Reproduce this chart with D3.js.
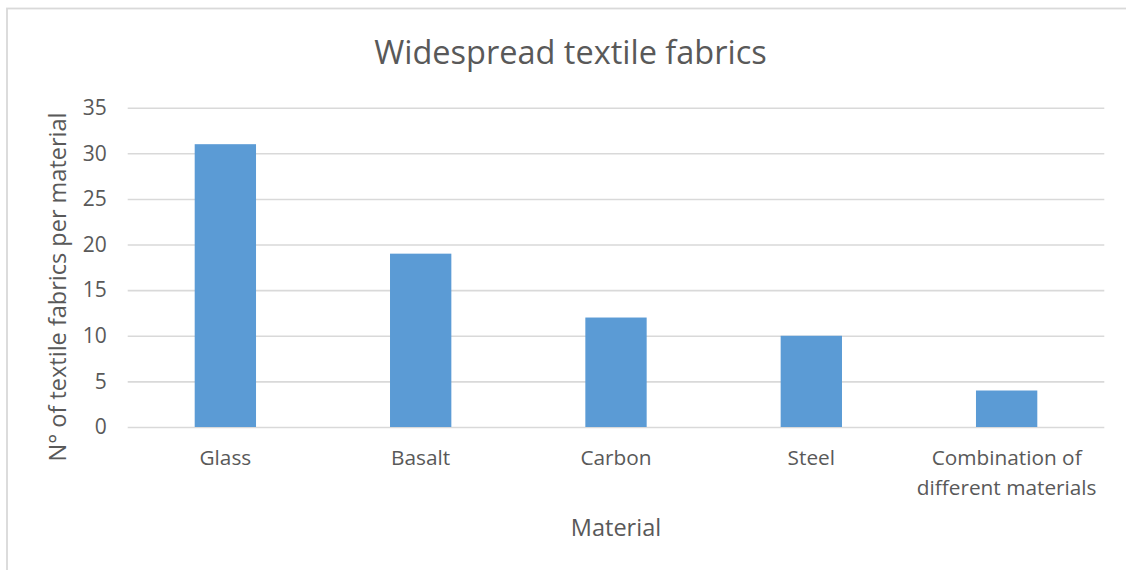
<!DOCTYPE html>
<html>
<head>
<meta charset="utf-8">
<script src="https://cdn.jsdelivr.net/npm/d3@7"></script>
<style>
  html, body { margin: 0; padding: 0; background: #fff; }
  svg { display: block; }
</style>
</head>
<body>
<div id="chart"></div>
<script>
var width = 1126;
var height = 570;

// data
var categories = ["Glass", "Basalt", "Carbon", "Steel", "Combination of\ndifferent materials"];
var counts = [31, 19, 12, 10, 4];
var yTicks = [0, 5, 10, 15, 20, 25, 30, 35];

var title = "Widespread textile fabrics";
var xTitle = "Material";
var yTitle = "N° of textile fabrics per material";

var plotLeft = 127.7;
var plotRight = 1104.3;
var plotTop = 107.7;
var plotBottom = 427;

var textColor = "#595959";
var gridColor = "#d9d9d9";
var barColor = "#5b9bd5";
var fontFamily = "'Open Sans', sans-serif";

var svg = d3.select("#chart").append("svg")
    .attr("width", width)
    .attr("height", height);

// chart frame (cut off on the right and bottom in the original)
svg.append("rect")
    .attr("x", 7)
    .attr("y", 8.5)
    .attr("width", 1300)
    .attr("height", 800)
    .attr("fill", "none")
    .attr("stroke", gridColor)
    .attr("stroke-width", 1.8);

var x = d3.scaleBand()
    .domain(categories)
    .range([plotLeft, plotRight])
    .paddingInner(0.686)
    .paddingOuter(0.343);

var y = d3.scaleLinear()
    .domain([0, 35])
    .range([plotBottom, plotTop]);

// y axis with gridlines
var yAxis = svg.append("g")
    .attr("transform", "translate(" + plotLeft + ",0)")
    .call(d3.axisLeft(y)
        .tickValues(yTicks)
        .tickSizeInner(-(plotRight - plotLeft))
        .tickSizeOuter(0)
        .tickPadding(21));

yAxis.select(".domain").remove();
yAxis.selectAll(".tick line")
    .attr("stroke", gridColor)
    .attr("stroke-width", 1.6);
yAxis.selectAll(".tick text")
    .attr("fill", textColor)
    .attr("font-family", fontFamily)
    .attr("font-size", "21px");

// bars
svg.append("g").selectAll("rect")
    .data(counts)
    .enter()
    .append("rect")
    .attr("x", function (d, i) { return x(categories[i]); })
    .attr("y", function (d) { return y(d); })
    .attr("width", x.bandwidth())
    .attr("height", function (d) { return y(0) - y(d); })
    .attr("fill", barColor);

// category labels
var xAxis = svg.append("g")
    .attr("transform", "translate(0," + plotBottom + ")")
    .call(d3.axisBottom(x).tickSize(0).tickFormat(""));
xAxis.select(".domain").remove();

xAxis.selectAll(".tick").each(function (d) {
    var lines = d.split("\n");
    var t = d3.select(this).append("text")
        .attr("y", 38)
        .attr("text-anchor", "middle")
        .attr("fill", textColor)
        .attr("font-family", fontFamily)
        .attr("font-size", "20.8px");
    lines.forEach(function (line, i) {
        t.append("tspan")
            .attr("x", 0)
            .attr("dy", i === 0 ? 0 : 30)
            .text(line);
    });
});

// title
svg.append("text")
    .attr("x", 570.5)
    .attr("y", 64)
    .attr("text-anchor", "middle")
    .attr("fill", textColor)
    .attr("font-family", fontFamily)
    .attr("font-size", "32.5px")
    .text(title);

// axis titles
svg.append("text")
    .attr("x", (plotLeft + plotRight) / 2)
    .attr("y", 536)
    .attr("text-anchor", "middle")
    .attr("fill", textColor)
    .attr("font-family", fontFamily)
    .attr("font-size", "23.5px")
    .text(xTitle);

svg.append("text")
    .attr("transform", "translate(66,287) rotate(-90)")
    .attr("text-anchor", "middle")
    .attr("fill", textColor)
    .attr("font-family", fontFamily)
    .attr("font-size", "23.5px")
    .text(yTitle);
</script>
</body>
</html>
